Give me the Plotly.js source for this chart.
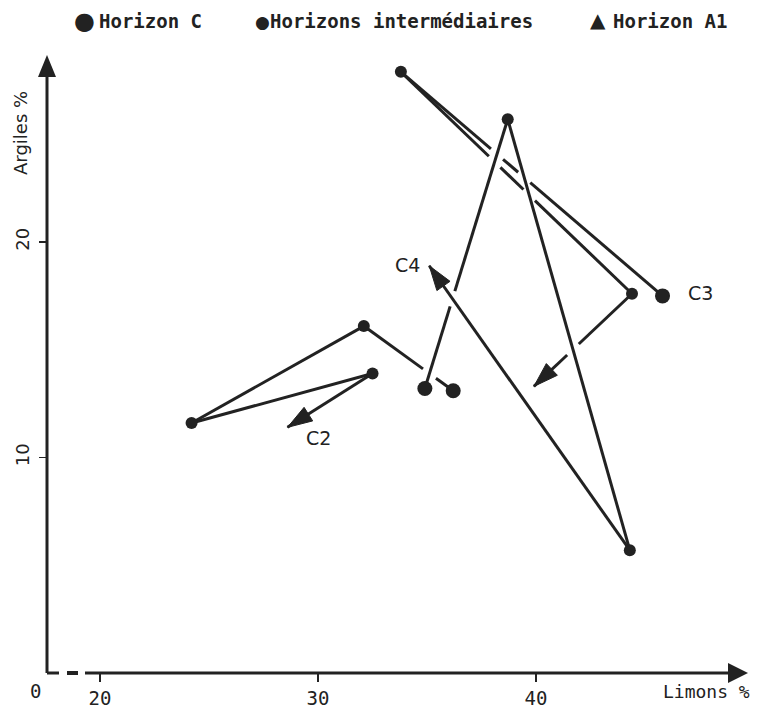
<!DOCTYPE html>
<html><head><meta charset="utf-8">
<script src="https://cdn.plot.ly/plotly-3.0.1.min.js"></script>
<style>body{margin:0;background:#fff}</style>
</head><body><div id="chart" style="width:760px;height:709px"></div>
<script>
// ---- Data (Limons %, Argiles %) ----
const profileNames = ['C2', 'C3', 'C4'];
const c2Limons  = [36.2, 32.1, 24.2, 32.5];
const c2Argiles = [13.1, 16.1, 11.6, 13.9];
const c2Horizons = ['C', 'I', 'I', 'I'];
const c3Limons  = [45.8, 33.8, 44.4];
const c3Argiles = [17.5, 27.9, 17.6];
const c3Horizons = ['C', 'I', 'I'];
const c4Limons  = [34.9, 38.7, 44.3];
const c4Argiles = [13.2, 25.7, 5.7];
const c4Horizons = ['C', 'I', 'I'];
// arrow tips showing the direction of each profile
const arrowLimons  = [28.6, 39.9, 35.1];
const arrowArgiles = [11.4, 13.3, 18.9];
const xTickVals = [20, 30, 40];
const yTickVals = [10, 20];
const legendLabels = ['Horizon C', 'Horizons intermédiaires', 'Horizon A1'];

// ---- Layout constants ----
const W = 760, H = 709;
const M = {l: 47, r: 12, t: 55, b: 36, pad: 0};
const XR = [17.57, 49.72], YR = [0, 28.68];
const pw = W - M.l - M.r, ph = H - M.t - M.b;
const toPx = x => (x - XR[0]) / (XR[1] - XR[0]) * pw;
const toPy = y => (YR[1] - y) / (YR[1] - YR[0]) * ph;
const INK = '#222222';

const profiles = [
  {x: c2Limons, y: c2Argiles, h: c2Horizons},
  {x: c3Limons, y: c3Argiles, h: c3Horizons},
  {x: c4Limons, y: c4Argiles, h: c4Horizons}
];

// segments in drawing order (later segments pass over earlier ones)
const segs = [];
profiles.forEach((p, pi) => {
  const xs = p.x.concat([arrowLimons[pi]]);
  const ys = p.y.concat([arrowArgiles[pi]]);
  for (let i = 0; i < xs.length - 1; i++) {
    segs.push({p: pi, ax: xs[i], ay: ys[i], bx: xs[i + 1], by: ys[i + 1]});
  }
});

function intersect(s, t) {
  const x1 = toPx(s.ax), y1 = toPy(s.ay), x2 = toPx(s.bx), y2 = toPy(s.by);
  const x3 = toPx(t.ax), y3 = toPy(t.ay), x4 = toPx(t.bx), y4 = toPy(t.by);
  const d = (x2 - x1) * (y4 - y3) - (y2 - y1) * (x4 - x3);
  if (Math.abs(d) < 1e-9) return null;
  const a = ((x3 - x1) * (y4 - y3) - (y3 - y1) * (x4 - x3)) / d;
  const b = ((x3 - x1) * (y2 - y1) - (y3 - y1) * (x2 - x1)) / d;
  if (a > 0.03 && a < 0.97 && b > 0.03 && b < 0.97) return a;
  return null;
}

const HALF_GAP = 8; // px
const lineX = [[], [], []], lineY = [[], [], []];
segs.forEach((s, i) => {
  const cuts = [];
  for (let j = i + 1; j < segs.length; j++) {
    const a = intersect(s, segs[j]);
    if (a !== null) cuts.push(a);
  }
  cuts.sort((u, v) => u - v);
  const len = Math.hypot(toPx(s.bx) - toPx(s.ax), toPy(s.by) - toPy(s.ay));
  const dt = HALF_GAP / len;
  const bounds = [0];
  cuts.forEach(c => { bounds.push(c - dt); bounds.push(c + dt); });
  bounds.push(1);
  for (let k = 0; k < bounds.length; k += 2) {
    const t0 = bounds[k], t1 = bounds[k + 1];
    lineX[s.p].push(s.ax + t0 * (s.bx - s.ax), s.ax + t1 * (s.bx - s.ax), null);
    lineY[s.p].push(s.ay + t0 * (s.by - s.ay), s.ay + t1 * (s.by - s.ay), null);
  }
});

const traces = [];
profiles.forEach((p, pi) => {
  traces.push({
    type: 'scatter', mode: 'lines', x: lineX[pi], y: lineY[pi],
    name: profileNames[pi], showlegend: false, hoverinfo: 'skip',
    line: {color: INK, width: 3}
  });
});

// markers by horizon type
const cX = [], cY = [], iX = [], iY = [];
profiles.forEach(p => p.h.forEach((h, k) => {
  if (h === 'C') { cX.push(p.x[k]); cY.push(p.y[k]); }
  else { iX.push(p.x[k]); iY.push(p.y[k]); }
}));
traces.push({type: 'scatter', mode: 'markers', x: iX, y: iY, name: legendLabels[1],
  showlegend: false, marker: {color: INK, size: 12, symbol: 'circle', opacity: 1}});
traces.push({type: 'scatter', mode: 'markers', x: cX, y: cY, name: legendLabels[0],
  showlegend: false, marker: {color: INK, size: 15, symbol: 'circle', opacity: 1}});

// arrow heads
const ahX = [], ahY = [], ahS = [];
profiles.forEach((p, pi) => {
  ahX.push(p.x[p.x.length - 1], arrowLimons[pi]);
  ahY.push(p.y[p.y.length - 1], arrowArgiles[pi]);
  ahS.push(0, 26);
});
traces.push({type: 'scatter', mode: 'markers', x: ahX, y: ahY, showlegend: false,
  hoverinfo: 'skip',
  marker: {color: INK, size: ahS, symbol: 'arrow', angleref: 'previous', opacity: 1,
    line: {color: INK, width: 1}}});

const px2paperX = px => (px - M.l) / pw;
const px2paperY = py => 1 - (py - M.t) / ph;

const sans = 'DejaVu Sans, sans-serif';
const mono = 'DejaVu Sans Mono, monospace';

const annotations = [
  // legend
  {text: '●', x: px2paperX(84), y: px2paperY(21), font: {family: sans, size: 24, color: INK}},
  {text: '<b>' + legendLabels[0] + '</b>', x: px2paperX(97), y: px2paperY(21), xanchor: 'left', font: {family: mono, size: 19, color: INK}},
  {text: '●', x: px2paperX(262), y: px2paperY(22), font: {family: sans, size: 17, color: INK}},
  {text: '<b>' + legendLabels[1] + '</b>', x: px2paperX(268), y: px2paperY(21), xanchor: 'left', font: {family: mono, size: 19, color: INK}},
  {text: '▲', x: px2paperX(598), y: px2paperY(20), font: {family: sans, size: 20, color: INK}},
  {text: '<b>' + legendLabels[2] + '</b>', x: px2paperX(611), y: px2paperY(21), xanchor: 'left', font: {family: mono, size: 19, color: INK}},
  // axis titles
  {text: 'Argiles %', x: px2paperX(21), y: px2paperY(133), textangle: -90, font: {family: sans, size: 18, color: INK}},
  {text: 'Limons %', x: px2paperX(706), y: px2paperY(691), font: {family: mono, size: 18, color: INK}},
  {text: '0', x: px2paperX(35), y: px2paperY(691), font: {family: mono, size: 19, color: INK}},
  // profile labels
  {text: profileNames[0], xref: 'x', yref: 'y', x: arrowLimons[0], y: arrowArgiles[0], xshift: 31, yshift: -11, font: {family: sans, size: 19, color: INK}},
  {text: profileNames[1], xref: 'x', yref: 'y', x: c3Limons[0], y: c3Argiles[0], xshift: 38, yshift: 3, font: {family: sans, size: 19, color: INK}},
  {text: profileNames[2], xref: 'x', yref: 'y', x: arrowLimons[2], y: arrowArgiles[2], xshift: -22, yshift: 1, font: {family: sans, size: 19, color: INK}}
].map(a => Object.assign({xref: 'paper', yref: 'paper', showarrow: false, xanchor: 'center', yanchor: 'middle'}, a));

const shapes = [
  {type: 'line', xref: 'paper', yref: 'paper', x0: 0, x1: 0, y0: 0, y1: 0.98, line: {color: INK, width: 3}},
  {type: 'line', xref: 'paper', yref: 'paper', x0: 0, x1: px2paperX(59), y0: 0, y1: 0, line: {color: INK, width: 3}},
  {type: 'line', xref: 'paper', yref: 'paper', x0: px2paperX(67), x1: px2paperX(78), y0: 0, y1: 0, line: {color: INK, width: 4}},
  {type: 'line', xref: 'paper', yref: 'paper', x0: px2paperX(85), x1: 0.98, y0: 0, y1: 0, line: {color: INK, width: 2.8}},
  {type: 'path', xref: 'paper', yref: 'paper', xsizemode: 'pixel', ysizemode: 'pixel', xanchor: 0, yanchor: 1,
    path: 'M0,0 L-9,-22 L9,-22 Z', fillcolor: INK, line: {width: 0}},
  {type: 'path', xref: 'paper', yref: 'paper', xsizemode: 'pixel', ysizemode: 'pixel', xanchor: 1, yanchor: 0,
    path: 'M0,0 L-20,10 L-20,-10 Z', fillcolor: INK, line: {width: 0}}
];

const layout = {
  width: W, height: H, autosize: false, margin: M,
  paper_bgcolor: '#fff', plot_bgcolor: '#fff', showlegend: false,
  xaxis: {range: XR, showgrid: false, zeroline: false, showline: false,
    tickvals: xTickVals, ticks: 'outside', ticklen: 8, tickwidth: 1.5, tickcolor: INK,
    tickfont: {family: mono, size: 19, color: INK}},
  yaxis: {range: YR, showgrid: false, zeroline: false, showline: false,
    tickvals: yTickVals, ticks: 'outside', ticklen: 7, tickwidth: 1.5, tickcolor: INK,
    tickangle: -90, ticklabelstandoff: 3,
    tickfont: {family: sans, size: 18, color: INK}},
  shapes: shapes, annotations: annotations
};

Plotly.newPlot('chart', traces, layout, {displayModeBar: false, staticPlot: true});
</script></body></html>
